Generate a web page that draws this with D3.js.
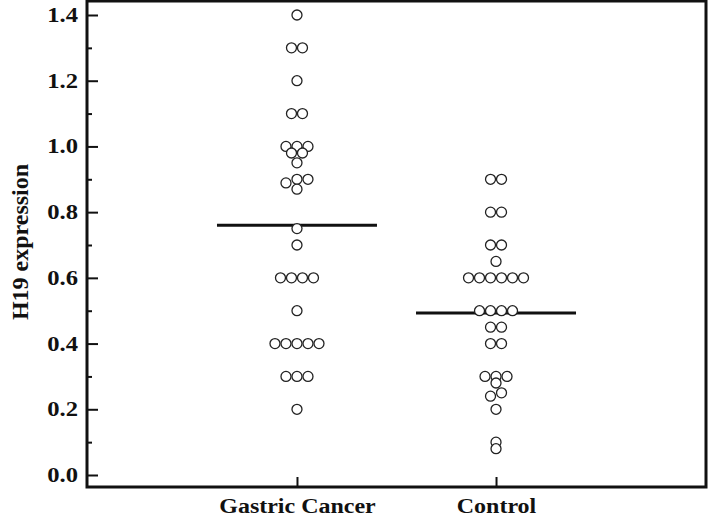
<!DOCTYPE html>
<html>
<head>
<meta charset="utf-8">
<script src="https://cdn.jsdelivr.net/npm/d3@7"></script>
<style>
  html, body { margin: 0; padding: 0; background: #fff; }
  svg { display: block; }
</style>
</head>
<body>
<svg id="chart" width="709" height="518"></svg>
<script>
// ---- data ----
const categories = ["Gastric Cancer", "Control"];
const gastricValues = [1.4, 1.3, 1.3, 1.2, 1.1, 1.1, 1.0, 1.0, 1.0, 0.98, 0.98, 0.95,
  0.90, 0.90, 0.889, 0.87, 0.75, 0.70, 0.6, 0.6, 0.6, 0.6, 0.5,
  0.4, 0.4, 0.4, 0.4, 0.4, 0.3, 0.3, 0.3, 0.2];
const controlValues = [0.9, 0.9, 0.8, 0.8, 0.7, 0.7, 0.65, 0.6, 0.6, 0.6, 0.6, 0.6, 0.6,
  0.5, 0.5, 0.5, 0.5, 0.45, 0.45, 0.4, 0.4, 0.3, 0.3, 0.3, 0.28, 0.25, 0.24, 0.2, 0.1, 0.08];
const majorTicks = [0, 0.2, 0.4, 0.6, 0.8, 1.0, 1.2, 1.4];
const minorTicks = [0.1, 0.3, 0.5, 0.7, 0.9, 1.1, 1.3];
const yTitle = "H19 expression";

// ---- layout ----
const mLeft = 87, mRight = 706, mTop = 1, mBottom = 487;
const svg = d3.select("#chart");
const FONT = "'Liberation Serif', 'Times New Roman', serif";
const STRETCH = 1.2;

const x = d3.scalePoint().domain(categories).range([mLeft, mRight]).padding(1.055);
const y = d3.scaleLinear().domain([0, 1.4]).range([475, 15]);

// frame
svg.append("rect")
  .attr("x", mLeft).attr("y", mTop)
  .attr("width", mRight - mLeft).attr("height", mBottom - mTop)
  .attr("fill", "none").attr("stroke", "#111").attr("stroke-width", 3);

// y axis major
const yAxis = svg.append("g").attr("transform", `translate(${mLeft},0)`)
  .call(d3.axisLeft(y).tickValues(majorTicks).tickFormat(d3.format(".1f"))
    .tickSizeInner(-11).tickSizeOuter(0).tickPadding(9));
yAxis.select(".domain").remove();
yAxis.selectAll(".tick line").attr("stroke", "#111").attr("stroke-width", 2);
yAxis.selectAll(".tick text")
  .attr("font-family", FONT).attr("font-weight", "bold").attr("font-size", 20.5)
  .attr("fill", "#111")
  .attr("transform", function () {
    const tx = +d3.select(this).attr("x");
    return `translate(${tx},0) scale(${STRETCH},1) translate(${-tx},0)`;
  });

// y axis minor
const yMinor = svg.append("g").attr("transform", `translate(${mLeft},0)`)
  .call(d3.axisLeft(y).tickValues(minorTicks).tickFormat("")
    .tickSizeInner(-5).tickSizeOuter(0));
yMinor.select(".domain").remove();
yMinor.selectAll(".tick line").attr("stroke", "#111").attr("stroke-width", 2);

// x axis
const xAxis = svg.append("g").attr("transform", `translate(0,${mBottom})`)
  .call(d3.axisBottom(x).tickSizeInner(-10).tickSizeOuter(0).tickPadding(12));
xAxis.select(".domain").remove();
xAxis.selectAll(".tick line").attr("stroke", "#111").attr("stroke-width", 2);
xAxis.selectAll(".tick text")
  .attr("font-family", FONT).attr("font-weight", "bold").attr("font-size", 20)
  .attr("fill", "#111")
  .attr("transform", "scale(1.2,1)");

// y title
svg.append("text")
  .attr("transform", `translate(28,242) rotate(-90)`)
  .attr("text-anchor", "middle")
  .attr("font-family", FONT).attr("font-weight", "bold").attr("font-size", 24)
  .attr("fill", "#111")
  .text(yTitle);

// ---- dot layout: bin by value, spread each bin horizontally ----
const step = 11, r = 5;
function layout(values, cat) {
  const groups = d3.groups(values, v => Math.round(v / 0.025));
  const pts = [];
  groups.forEach(([, vs]) => {
    const sorted = vs.slice().sort(d3.ascending);
    sorted.forEach((v, i) => {
      pts.push({ v, cx: x(cat) + (i - (sorted.length - 1) / 2) * step });
    });
  });
  return pts;
}
const series = [
  { cat: categories[0], values: gastricValues },
  { cat: categories[1], values: controlValues }
];

series.forEach(s => {
  const pts = layout(s.values, s.cat);
  const m = d3.mean(s.values);
  // mean line
  svg.append("line")
    .attr("x1", x(s.cat) - 80).attr("x2", x(s.cat) + 80)
    .attr("y1", y(m)).attr("y2", y(m))
    .attr("stroke", "#111").attr("stroke-width", 3);
  svg.append("g").selectAll("circle").data(pts).join("circle")
    .attr("cx", d => d.cx).attr("cy", d => y(d.v)).attr("r", r)
    .attr("fill", "#fff").attr("stroke", "#222").attr("stroke-width", 1.3);
});
</script>
</body>
</html>
